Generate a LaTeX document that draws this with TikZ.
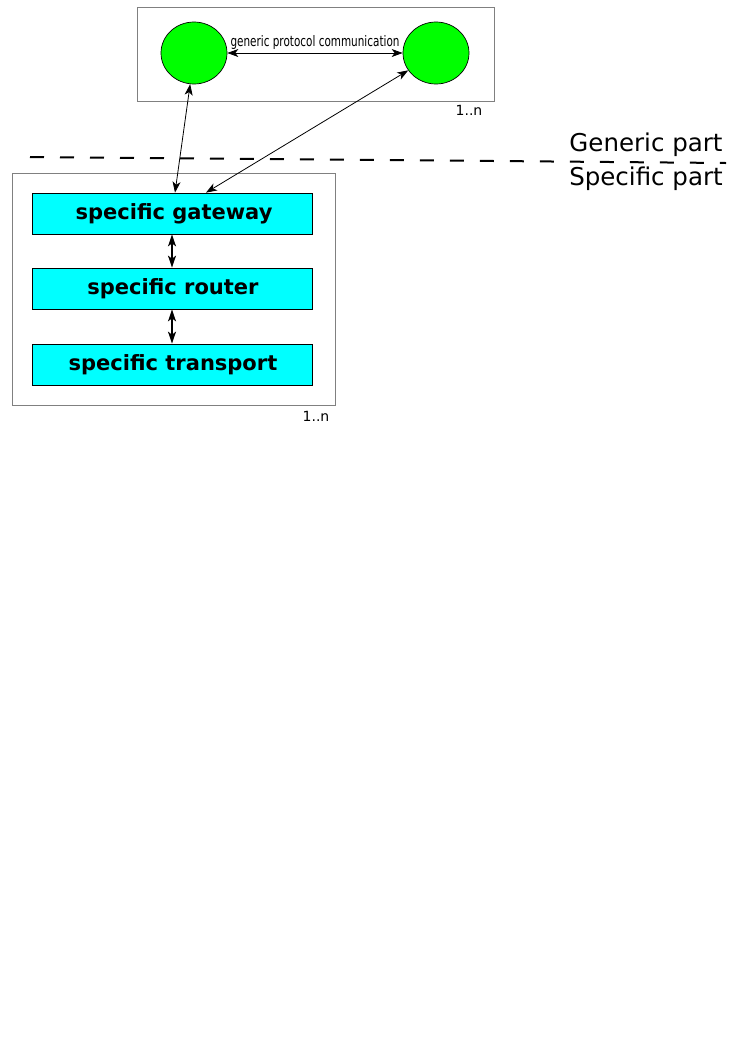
\documentclass[tikz,border=0pt]{standalone}
\usepackage{fontspec}
\setmainfont{DejaVu Sans}
\newfontfamily\narrowfont[FakeStretch=0.72]{DejaVu Sans}
\usetikzlibrary{arrows.meta,shapes.geometric}
\definecolor{layercyan}{RGB}{0,255,255}
\definecolor{peergreen}{RGB}{0,255,0}

\begin{document}
\begin{tikzpicture}[x=1pt, y=-1pt, >={Stealth[length=11pt, width=8pt, inset=3pt]},
	frame/.style={draw=gray, line width=0.8pt, minimum width=#1},
	peer/.style={draw, line width=0.7pt, fill=peergreen, ellipse, minimum width=66pt, minimum height=62pt, inner sep=0pt},
	layer/.style={draw, line width=0.7pt, fill=layercyan, minimum width=280pt, minimum height=41pt, font=\bfseries\fontsize{21}{25}\selectfont},
	mult/.style={font=\fontsize{14}{16}\selectfont},
	part/.style={font=\fontsize{24.5}{28}\selectfont}]
	\useasboundingbox (0,0) rectangle (745,1053);
	% generic part
	\node[frame=357pt, minimum height=94pt] (genbox) at (315.5,54) {};
	\node[peer] (peerA) at (194,53) {};
	\node[peer] (peerB) at (436,53) {};
	\draw[<->, line width=0.8pt] (peerA) -- node[above=0pt, font=\narrowfont\fontsize{14.5}{16}\selectfont] (proto) {generic protocol communication} (peerB);
	\node[mult] (genmult) at (469,110) {1..n};
	% separation
	\coordinate (sepL) at (30,157);
	\coordinate (sepR) at (726,163);
	\draw[line width=2pt, dash pattern=on 14pt off 16pt] (sepL) -- (sepR);
	\node[part] (genlbl) at (646,145) {Generic part};
	\node[part] (speclbl) at (646,179) {Specific part};
	% specific part
	\node[frame=323pt, minimum height=232pt] (specbox) at (173.5,289) {};
	\node[layer] (gw) at (172,213.5) {\hspace{4pt}specific gateway};
	\node[layer] (rt) at (172,288.5) {\hspace{2pt}specific router};
	\node[layer] (tp) at (172,364.5) {\hspace{2pt}specific transport};
	\node[mult] (specmult) at (316,416) {1..n};
	\draw[<->, line width=0.8pt] (peerA.263) -- ([xshift=3pt]gw.north);
	\draw[<->, line width=0.8pt] (peerB.212) -- ([xshift=34pt]gw.north);
	\draw[<->, line width=1.4pt, >={Stealth[length=12pt, width=8pt, inset=3pt]}] (gw) -- (rt);
	\draw[<->, line width=1.4pt, >={Stealth[length=12pt, width=8pt, inset=3pt]}] (rt) -- (tp);
\end{tikzpicture}
\end{document}
